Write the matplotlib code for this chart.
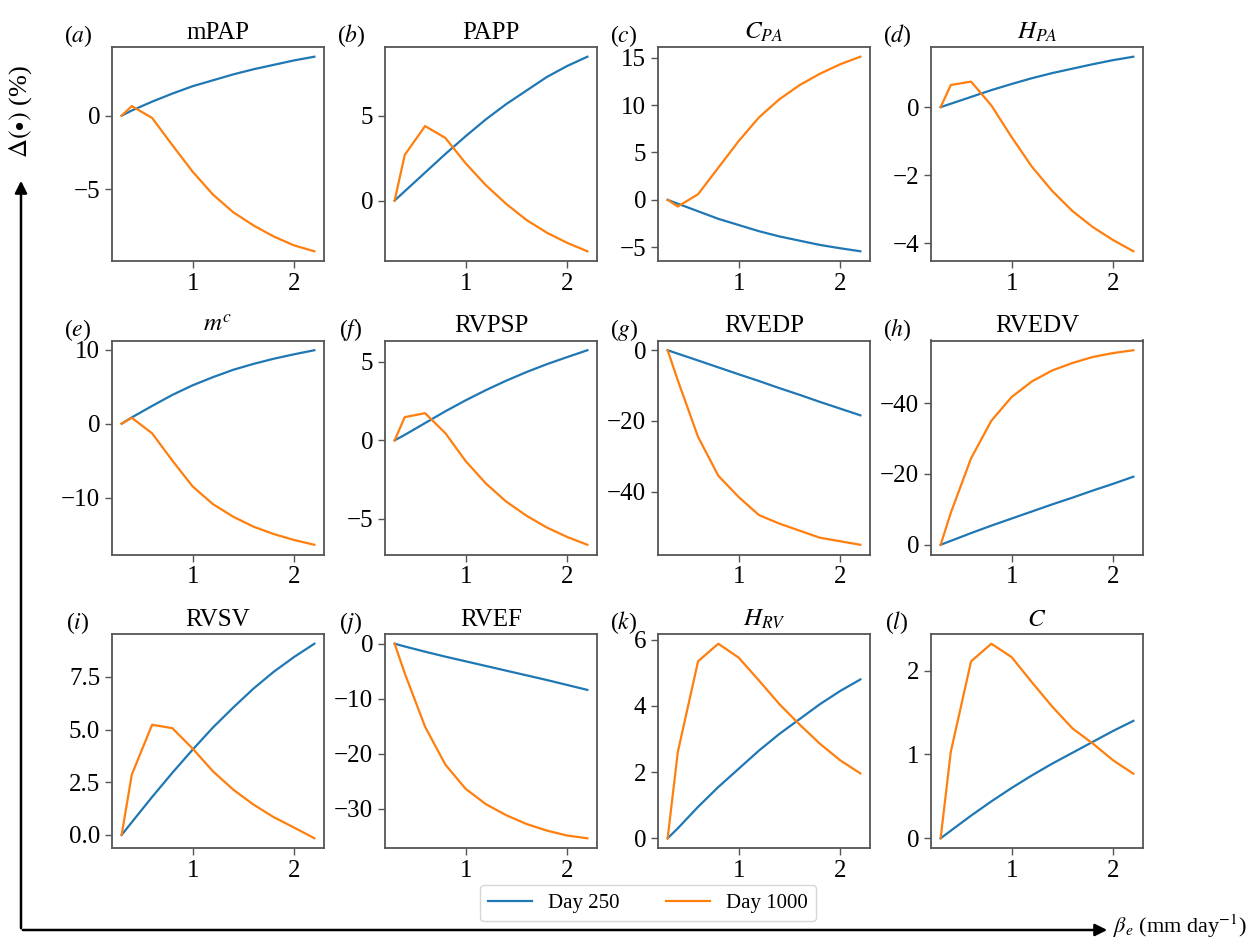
import matplotlib
matplotlib.use("Agg")
import matplotlib.pyplot as plt

plt.rcParams['font.family'] = ['Liberation Serif', 'DejaVu Serif']
plt.rcParams['mathtext.fontset'] = 'stix'

beta = [0.3, 0.4, 0.6, 0.8, 1.0, 1.2, 1.4, 1.6, 1.8, 2.0, 2.2]

titles = ["mPAP", "PAPP", r"$C_{PA}$", r"$H_{PA}$",
          r"$m^c$", "RVPSP", "RVEDP", "RVEDV",
          "RVSV", "RVEF", r"$H_{RV}$", r"$C$"]
letters = ["a", "b", "c", "d", "e", "f", "g", "h", "i", "j", "k", "l"]

day250 = [
    [0, 0.35, 0.95, 1.5, 2.0, 2.4, 2.8, 3.15, 3.45, 3.75, 4.0],
    [0, 0.55, 1.65, 2.75, 3.8, 4.8, 5.7, 6.5, 7.3, 7.95, 8.5],
    [0, -0.4, -1.2, -2.0, -2.65, -3.3, -3.85, -4.3, -4.75, -5.1, -5.42],
    [0, 0.1, 0.3, 0.5, 0.68, 0.85, 1.0, 1.13, 1.26, 1.38, 1.48],
    [0, 0.85, 2.4, 3.9, 5.2, 6.3, 7.3, 8.1, 8.8, 9.4, 9.95],
    [0, 0.35, 1.1, 1.85, 2.55, 3.2, 3.8, 4.35, 4.85, 5.3, 5.74],
    [0, -0.97, -2.9, -4.85, -6.8, -8.7, -10.7, -12.6, -14.6, -16.5, -18.4],
    [0, -1.1, -3.3, -5.4, -7.4, -9.4, -11.4, -13.3, -15.3, -17.2, -19.2],
    [0, 0.6, 1.8, 2.95, 4.05, 5.1, 6.05, 6.95, 7.75, 8.45, 9.08],
    [0, -0.5, -1.45, -2.35, -3.2, -4.05, -4.9, -5.75, -6.6, -7.5, -8.4],
    [0, 0.3, 0.95, 1.55, 2.1, 2.65, 3.15, 3.6, 4.05, 4.45, 4.8],
    [0, 0.09, 0.27, 0.44, 0.6, 0.75, 0.89, 1.02, 1.15, 1.28, 1.4],
]

day1000 = [
    [0, 0.65, -0.15, -2.0, -3.8, -5.35, -6.55, -7.45, -8.2, -8.8, -9.2],
    [0, 2.7, 4.4, 3.7, 2.2, 0.9, -0.2, -1.15, -1.9, -2.5, -3.0],
    [0, -0.7, 0.6, 3.4, 6.2, 8.7, 10.6, 12.1, 13.3, 14.3, 15.1],
    [0, 0.65, 0.75, 0.05, -0.88, -1.75, -2.46, -3.05, -3.52, -3.9, -4.23],
    [0, 0.8, -1.3, -5.0, -8.5, -10.9, -12.6, -13.95, -14.95, -15.75, -16.4],
    [0, 1.48, 1.73, 0.46, -1.32, -2.75, -3.9, -4.8, -5.55, -6.15, -6.65],
    [0, -8.5, -24.5, -35.5, -41.5, -46.6, -49.0, -51.0, -53.0, -54.0, -55.0],
    [0, -9.0, -24.4, -35.0, -41.7, -46.1, -49.2, -51.3, -53.0, -54.1, -54.9],
    [0, 2.86, 5.23, 5.07, 4.1, 3.02, 2.15, 1.44, 0.84, 0.35, -0.16],
    [0, -5.4, -15.1, -22.0, -26.4, -29.2, -31.2, -32.8, -34.0, -34.9, -35.4],
    [0, 2.6, 5.35, 5.88, 5.46, 4.77, 4.06, 3.44, 2.86, 2.36, 1.96],
    [0, 1.03, 2.11, 2.32, 2.16, 1.86, 1.57, 1.31, 1.13, 0.93, 0.77],
]

yticks = [[-5, 0], [0, 5], [-5, 0, 5, 10, 15], [-4, -2, 0],
          [-10, 0, 10], [-5, 0, 5], [-40, -20, 0], [-40, -20, 0],
          [0, 2.5, 5, 7.5], [-30, -20, -10, 0], [0, 2, 4, 6], [0, 1, 2]]

W, H = 1254, 941
fig = plt.figure(figsize=(W / 100, H / 100), dpi=100)

col_left = [112, 385, 658, 931]
row_top = [47, 340.5, 634]
aw, ah = 212, 214

for i in range(12):
    r, c = divmod(i, 4)
    ax = fig.add_axes([col_left[c] / W, 1 - (row_top[r] + ah) / H, aw / W, ah / H])
    ax.plot(beta, day250[i], color="#1f77b4", lw=1.6, label="Day 250")
    ax.plot(beta, day1000[i], color="#ff7f0e", lw=1.6, label="Day 1000")
    ax.set_xticks([1, 2])
    ax.set_yticks(yticks[i])
    if i == 8:
        ax.set_yticklabels(["0.0", "2.5", "5.0", "7.5"])
    if i == 7:
        ax.invert_yaxis()
    ax.tick_params(labelsize=18, length=5, color="#555555", width=1.0)
    for s in ax.spines.values():
        s.set_color("#555555")
        s.set_linewidth(1.3)
    ax.set_title(titles[i], fontsize=18, pad=6)
    ax.text(-0.16, 0.99, "($" + letters[i] + "$)", transform=ax.transAxes,
            fontsize=17, ha="center", va="bottom")

handles, labels = ax.get_legend_handles_labels()
fig.legend(handles, labels, loc="center", bbox_to_anchor=(648 / W, 1 - 903 / H),
           ncol=2, fontsize=15, handlelength=2.1, columnspacing=2.2, frameon=True)

# axis arrows
fig.add_artist(matplotlib.patches.FancyArrowPatch(
    (20 / W, 1 - 930 / H), (1110 / W, 1 - 930 / H), transform=fig.transFigure,
    arrowstyle="-|>", mutation_scale=18, lw=1.8, color="black"))
fig.add_artist(matplotlib.patches.FancyArrowPatch(
    (21 / W, 1 - 931 / H), (21 / W, 1 - 178 / H), transform=fig.transFigure,
    arrowstyle="-|>", mutation_scale=18, lw=1.8, color="black"))
fig.text(1113 / W, 1 - 926 / H, r"$\beta_e$ (mm day$^{-1}$)", fontsize=16,
         ha="left", va="center")
fig.text(21 / W, 1 - 112 / H, r"$\Delta(\bullet)$ (%)", fontsize=19,
         rotation=90, ha="center", va="center")

fig.savefig("out.png", dpi=100)
